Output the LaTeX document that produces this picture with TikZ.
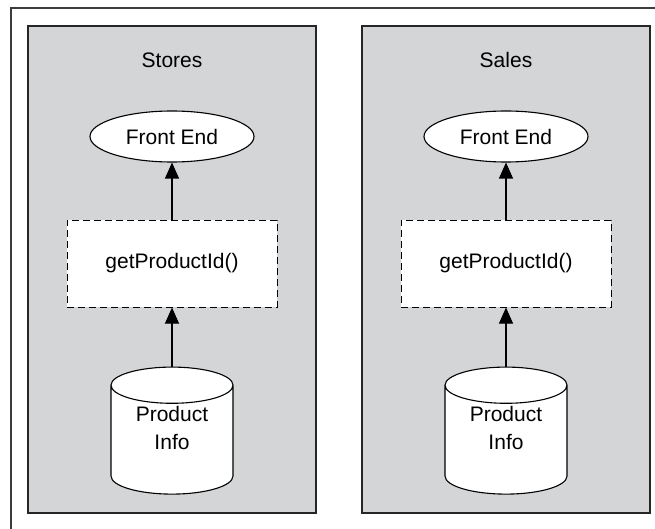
\documentclass[tikz,border=0pt]{standalone}
\usepackage{fontspec}
\setmainfont{Liberation Sans}
\usepackage{tikz}
\usetikzlibrary{positioning,shapes.geometric,arrows.meta}

\definecolor{panelgray}{RGB}{212,213,215}
\definecolor{linegray}{RGB}{60,60,60}

\begin{document}
\begin{tikzpicture}[
        x=1pt,
        y=-1pt,
        every node/.style={font=\fontsize{21}{28}\selectfont},
        frame/.style={
            draw=linegray,
            line width=1.6pt
        },
        panel/.style={
            rectangle,
            draw=black!85,
            line width=1.6pt,
            fill=panelgray,
            minimum width=288pt,
            minimum height=487pt
        },
        front/.style={
            ellipse,
            draw=black,
            line width=1.1pt,
            fill=white,
            inner sep=0pt,
            minimum width=164pt,
            minimum height=51pt
        },
        service/.style={
            rectangle,
            draw=black,
            line width=1pt,
            dash pattern=on 7pt off 4pt,
            fill=white,
            minimum width=210pt,
            minimum height=87pt
        },
        db/.style={
            cylinder,
            shape border rotate=90,
            aspect=0.5,
            draw=black,
            line width=1.1pt,
            fill=white,
            align=center,
            text depth=24pt,
            inner sep=0pt,
            minimum width=122pt,
            minimum height=127pt
        },
        arrow/.style={
            -{Triangle[length=16pt,width=14pt]},
            line width=1.1pt
        }
    ]

    \useasboundingbox (0,0) rectangle (655,529);

    % outer frame
    \draw[frame] (11,529) |- (655,8);

    % panels
    \node[panel] (storespanel) at (172,269.5) {};
    \node[panel] (salespanel) at (506,269.5) {};

    % stores
    \node (storestitle) at (172,60) {Stores};
    \node[front] (storesfront) at (172,136.5) {Front End};
    \node[service, below=57pt of storesfront] (storesget) {getProductId()};
    \node[db, below=59pt of storesget] (storesdb) {Product\\Info};

    % sales
    \node (salestitle) at (506,60) {Sales};
    \node[front] (salesfront) at (506,136.5) {Front End};
    \node[service, below=57pt of salesfront] (salesget) {getProductId()};
    \node[db, below=59pt of salesget] (salesdb) {Product\\Info};

    % arrows
    \draw[arrow] (storesget) -- (storesfront);
    \draw[arrow] (storesdb) -- (storesget);
    \draw[arrow] (salesget) -- (salesfront);
    \draw[arrow] (salesdb) -- (salesget);

\end{tikzpicture}
\end{document}
